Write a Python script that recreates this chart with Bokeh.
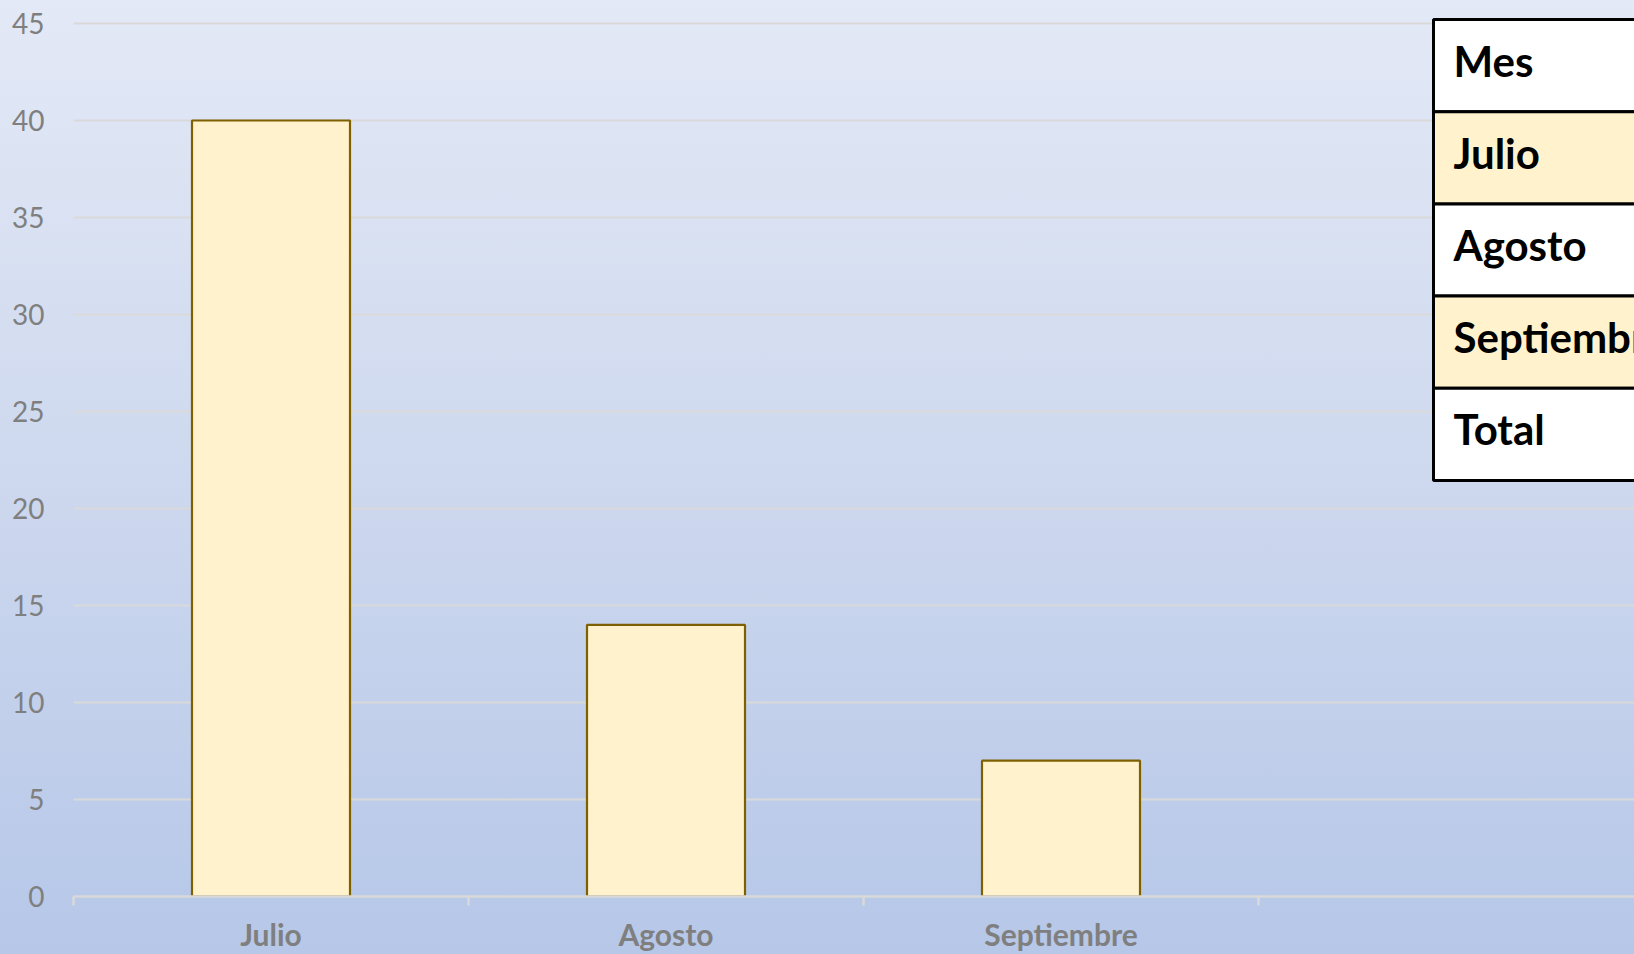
import numpy as np
from bokeh.plotting import figure
from bokeh.models import Range1d, FixedTicker
from bokeh.core.properties import value
from bokeh.embed import file_html
from bokeh.resources import INLINE

# ---------------- data ----------------
months = ["Julio", "Agosto", "Septiembre"]
counts = [40, 14, 7]
n_slots = 4                       # category slots on the axis (last one empty)
y_ticks = [0, 5, 10, 15, 20, 25, 30, 35, 40, 45]
table_rows = ["Mes", "Julio", "Agosto", "Septiembre", "Total"]
table_fills = ["#ffffff", "#fff2cc", "#ffffff", "#fff2cc", "#ffffff"]

# ---------------- layout ----------------
W, H = 1634, 954
PAGE = 0
B_LEFT, B_BOTTOM = 73, 58
CAT_PX = 395.0
UNIT_PX = 19.4
frame_w = W - B_LEFT
frame_h = H - B_BOTTOM
x_end = frame_w / CAT_PX
y_end = frame_h / UNIT_PX

def rx(px):   # reference-image pixel -> data x
    return (px - PAGE - B_LEFT) / CAT_PX

def ry(py):   # reference-image pixel -> data y
    return y_end - (py - PAGE) / UNIT_PX

FONT = "Lato"

p = figure(width=W, height=H, output_backend="svg", toolbar_location=None,
           x_range=Range1d(0, x_end), y_range=Range1d(0, y_end),
           min_border_left=B_LEFT, min_border_right=0, min_border_top=0,
           min_border_bottom=B_BOTTOM)
p.border_fill_color = None
p.background_fill_color = None
p.outline_line_color = None
p.styles = {"background": "linear-gradient(180deg, #e3e9f6 0%, #d0daef 45%, #b6c7e8 100%)"}

# grid
p.xgrid.grid_line_color = None
p.ygrid.ticker = FixedTicker(ticks=y_ticks)
p.ygrid.grid_line_color = "#d9d9d9"
p.ygrid.grid_line_width = 2

# y axis
p.yaxis.ticker = FixedTicker(ticks=y_ticks)
p.yaxis.axis_line_color = None
p.yaxis.major_tick_line_color = None
p.yaxis.minor_tick_line_color = None
p.yaxis.major_tick_out = 0
p.yaxis.major_label_standoff = 29
p.yaxis.major_label_text_font = FONT
p.yaxis.major_label_text_font_size = "28px"
p.yaxis.major_label_text_color = "#7f7f7f"

# x axis
centers = list(np.arange(len(months)) + 0.5)
p.xaxis.ticker = FixedTicker(ticks=centers, minor_ticks=list(range(n_slots + 1)))
p.xaxis.major_label_overrides = {float(c): m for c, m in zip(centers, months)}
p.xaxis.axis_line_color = "#d9d9d9"
p.xaxis.axis_line_width = 2.5
p.xaxis.major_tick_line_color = None
p.xaxis.major_tick_out = 0
p.xaxis.major_tick_in = 0
p.xaxis.minor_tick_line_color = "#d9d9d9"
p.xaxis.minor_tick_line_width = 2.5
p.xaxis.minor_tick_out = 9
p.xaxis.minor_tick_in = 0
p.xaxis.major_label_standoff = 10
p.xaxis.major_label_text_font = FONT
p.xaxis.major_label_text_font_style = "bold"
p.xaxis.major_label_text_font_size = "30px"
p.xaxis.major_label_text_color = "#7f7f7f"

# bars
p.vbar(x=centers, top=counts, width=0.4, bottom=0,
       fill_color="#fff2cc", line_color="#7f6000", line_width=2.2)

# table overlay
t_left, t_top, t_bottom = rx(1433), ry(19), ry(480)
row_h = (t_top - t_bottom) / len(table_rows)
tops = [t_top - i * row_h for i in range(len(table_rows))]
bots = [t - row_h for t in tops]
p.quad(left=t_left, right=x_end + 1, top=tops, bottom=bots,
       fill_color=table_fills, line_color="#000000", line_width=3)
p.text(x=[rx(1453)] * len(table_rows), y=[(t + b) / 2 for t, b in zip(tops, bots)],
       text=table_rows, text_font=value(FONT), text_font_style="bold",
       text_font_size="42px", text_color="#000000",
       text_baseline="middle", text_align="left", y_offset=-5)

open("out.html", "w").write(file_html(p, INLINE))
